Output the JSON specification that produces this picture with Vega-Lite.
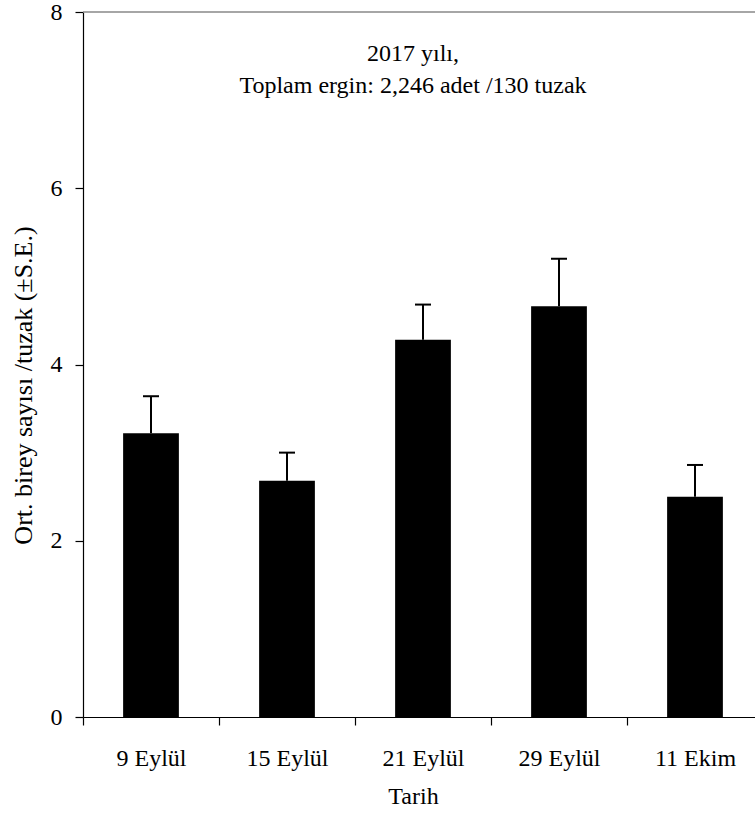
{
  "$schema": "https://vega.github.io/schema/vega-lite/v6.json",
  "autosize": {"type": "none"},
  "width": 672,
  "height": 705,
  "padding": {"left": 83, "top": 12, "right": 0, "bottom": 101},
  "background": "white",
  "config": {
    "view": {"stroke": null},
    "font": "Liberation Serif",
    "axis": {
      "labelFont": "Liberation Serif",
      "titleFont": "Liberation Serif",
      "labelFontSize": 24,
      "titleFontSize": 24,
      "titleFontWeight": "normal",
      "labelFontWeight": "normal",
      "labelColor": "black",
      "titleColor": "black",
      "domainColor": "black",
      "tickColor": "black",
      "domainWidth": 1.2,
      "tickWidth": 1.2,
      "tickSize": 8,
      "ticks": true,
      "grid": false
    }
  },
  "data": {
    "values": [
      {"date": "9 Eylül", "mean": 3.22, "upper": 3.64},
      {"date": "15 Eylül", "mean": 2.68, "upper": 3.0},
      {"date": "21 Eylül", "mean": 4.28, "upper": 4.68},
      {"date": "29 Eylül", "mean": 4.66, "upper": 5.2},
      {"date": "11 Ekim", "mean": 2.5, "upper": 2.86}
    ]
  },
  "layer": [
    {
      "mark": {"type": "bar", "color": "black", "width": {"band": 0.41}},
      "encoding": {
        "x": {
          "field": "date",
          "type": "nominal",
          "sort": null,
          "title": "Tarih",
          "scale": {"domain": ["9 Eylül", "15 Eylül", "21 Eylül", "29 Eylül", "11 Ekim"], "range": [0, 680], "paddingInner": 0, "paddingOuter": 0},
          "axis": {"labelAngle": 0, "ticks": true, "tickBand": "extent", "labelPadding": 21, "titlePadding": 14, "titleX": 330}
        },
        "y": {
          "field": "mean",
          "type": "quantitative",
          "title": "Ort. birey sayısı /tuzak (±S.E.)",
          "scale": {"domain": [0, 8], "nice": false, "zero": true},
          "axis": {"values": [0, 2, 4, 6, 8], "format": "d", "labelPadding": 13, "titlePadding": 14, "titleFontSize": 26, "titleY": 373}
        }
      }
    },
    {
      "data": {"values": [{"top": 8}]},
      "mark": {"type": "rule", "color": "#888888", "strokeWidth": 1.5},
      "encoding": {"y": {"field": "top", "type": "quantitative", "title": "Ort. birey sayısı /tuzak (±S.E.)"}}
    },
    {
      "mark": {"type": "rule", "color": "black", "strokeWidth": 2},
      "encoding": {
        "x": {"field": "date", "type": "nominal", "sort": null, "title": "Tarih"},
        "y": {"field": "mean", "type": "quantitative", "title": "Ort. birey sayısı /tuzak (±S.E.)"},
        "y2": {"field": "upper"}
      }
    },
    {
      "mark": {"type": "tick", "color": "black", "thickness": 2, "size": 16, "opacity": 1},
      "encoding": {
        "x": {"field": "date", "type": "nominal", "sort": null, "title": "Tarih"},
        "y": {"field": "upper", "type": "quantitative", "title": "Ort. birey sayısı /tuzak (±S.E.)"}
      }
    },
    {
      "data": {"values": [{"date": "21 Eylül", "pos": 7.52}]},
      "mark": {
        "type": "text",
        "text": ["2017 yılı,", "Toplam ergin: 2,246 adet /130 tuzak"],
        "font": "Liberation Serif",
        "fontSize": 24,
        "fontWeight": "normal",
        "lineHeight": 32,
        "baseline": "middle",
        "align": "center",
        "dx": -10,
        "color": "black"
      },
      "encoding": {
        "x": {"field": "date", "type": "nominal", "sort": null, "title": "Tarih"},
        "y": {"field": "pos", "type": "quantitative", "title": "Ort. birey sayısı /tuzak (±S.E.)"}
      }
    }
  ]
}
